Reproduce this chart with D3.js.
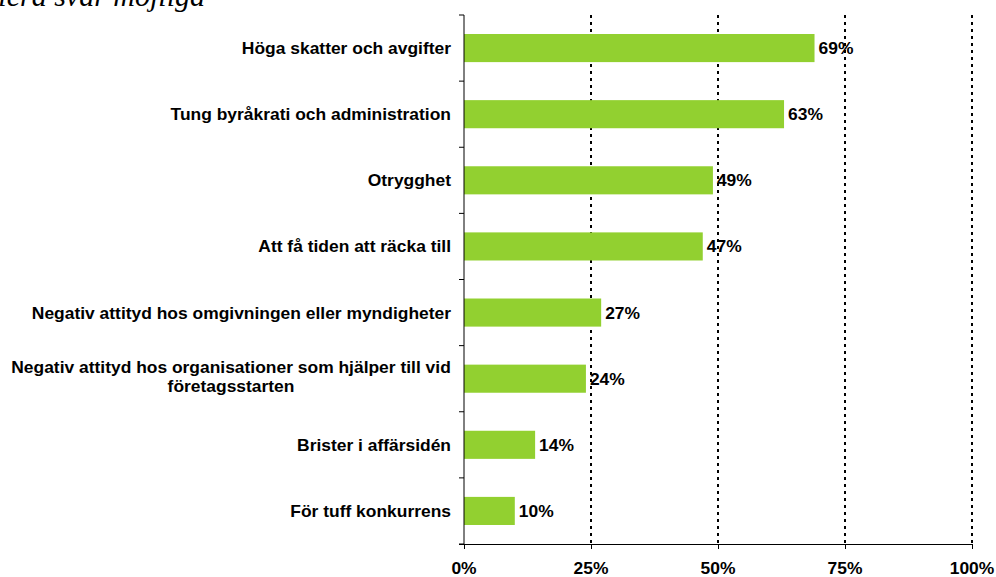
<!doctype html>
<html>
  <head>
    <meta charset="utf-8">
    <title>Hinder för företagsstart</title>
    <script src="https://cdnjs.cloudflare.com/ajax/libs/d3/7.8.5/d3.min.js"></script>
    <style>
      body { margin: 0; background: #fff; }
      svg { display: block; }
      .lbl { font-family: "Liberation Sans", Arial, sans-serif; font-weight: bold; font-size: 16px; fill: #000; }
    </style>
  </head>
  <body>
    <div id="chart"></div>
    <script>
      // data
      const categories = [
        'Höga skatter och avgifter',
        'Tung byråkrati och administration',
        'Otrygghet',
        'Att få tiden att räcka till',
        'Negativ attityd hos omgivningen eller myndigheter',
        'Negativ attityd hos organisationer som hjälper till vid|företagsstarten',
        'Brister i affärsidén',
        'För tuff konkurrens'
      ];
      const values = [69, 63, 49, 47, 27, 24, 14, 10];
      const ticks = [0, 25, 50, 75, 100];

      const width = 996, height = 577;
      const sx = 1.09; // the source text is a bit wide
      const svg = d3.select('#chart').append('svg')
        .attr('width', width)
        .attr('height', height);

      const x = d3.scaleLinear().domain([0, 100]).range([464, 972]);
      const y = d3.scaleBand().domain(categories).range([15, 544]).paddingInner(0.575).paddingOuter(0.2875);

      // stretched text helper
      function label(px, py, txt, anchor) {
        return svg.append('text')
          .attr('class', 'lbl')
          .attr('text-anchor', anchor || 'start')
          .attr('transform', `translate(${px},${py}) scale(${sx},1)`)
          .text(txt);
      }

      // title, cut off at the top like the source
      svg.append('text')
        .attr('x', -10)
        .attr('y', 6)
        .style('font-family', '"Liberation Serif", "Times New Roman", serif')
        .style('font-style', 'italic')
        .style('font-size', '30px')
        .text('flera svar möjliga');

      // dotted gridlines
      svg.selectAll('line.grid')
        .data(ticks.slice(1))
        .join('line')
        .attr('class', 'grid')
        .attr('x1', d => x(d)).attr('x2', d => x(d))
        .attr('y1', 15).attr('y2', 544)
        .attr('stroke', '#000')
        .attr('stroke-width', 2)
        .attr('stroke-dasharray', '3,4');

      // bars
      svg.selectAll('rect.bar')
        .data(values)
        .join('rect')
        .attr('class', 'bar')
        .attr('x', x(0))
        .attr('y', (d, i) => y(categories[i]))
        .attr('width', d => x(d) - x(0))
        .attr('height', y.bandwidth())
        .attr('fill', '#92d030');

      // value labels
      values.forEach((v, i) => {
        label(x(v) + 4, y(categories[i]) + y.bandwidth() / 2 + 6, v + '%');
      });

      // category labels
      categories.forEach(c => {
        const parts = c.split('|');
        const cy = y(c) + y.bandwidth() / 2;
        if (parts.length === 1) {
          label(451, cy + 6, c, 'end');
        } else {
          label(231, cy - 6, parts[0], 'middle');
          label(231, cy + 13, parts[1], 'middle');
        }
      });

      // y axis with ticks between categories
      const yTicks = d3.range(categories.length + 1).map(i => 15 + i * (529 / categories.length));
      svg.append('line')
        .attr('x1', x(0)).attr('x2', x(0))
        .attr('y1', 15).attr('y2', 544)
        .attr('stroke', '#000');
      svg.selectAll('line.ytick')
        .data(yTicks)
        .join('line')
        .attr('x1', x(0) - 5).attr('x2', x(0))
        .attr('y1', d => d).attr('y2', d => d)
        .attr('stroke', '#000');

      // x axis
      const xAxis = d3.axisBottom(x)
        .tickValues(ticks)
        .tickSize(5)
        .tickFormat('');
      const gx = svg.append('g')
        .attr('transform', 'translate(0,544)')
        .call(xAxis);
      gx.select('.domain').attr('d', `M${x(0) - 5},0.5H${x(100)}`).attr('stroke', '#000');
      gx.selectAll('.tick line').attr('stroke', '#000');
      ticks.forEach(t => {
        label(x(t), 574, t + '%', 'middle');
      });
    </script>
  </body>
</html>
